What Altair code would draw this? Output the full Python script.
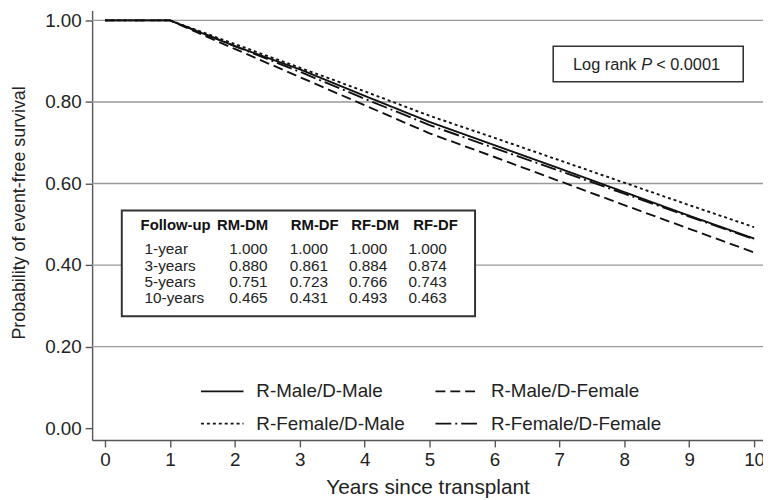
import altair as alt
import pandas as pd

FONT = "Liberation Sans"

# ---- data ----
years = [0, 1, 2, 3, 4, 5, 6, 7, 8, 9, 10]
groups = ["R-Male/D-Male", "R-Male/D-Female", "R-Female/D-Male", "R-Female/D-Female"]
rm_dm = [1.000, 1.000, 0.937, 0.880, 0.815, 0.751, 0.694, 0.637, 0.579, 0.521, 0.465]
rm_df = [1.000, 1.000, 0.930, 0.861, 0.792, 0.723, 0.665, 0.606, 0.547, 0.489, 0.431]
rf_dm = [1.000, 1.000, 0.942, 0.884, 0.826, 0.766, 0.712, 0.657, 0.602, 0.547, 0.493]
rf_df = [1.000, 1.000, 0.937, 0.874, 0.808, 0.743, 0.687, 0.631, 0.575, 0.519, 0.463]

x_ticks = [0, 1, 2, 3, 4, 5, 6, 7, 8, 9, 10]
y_ticks = [0.0, 0.2, 0.4, 0.6, 0.8, 1.0]
grid_vals = [0.2, 0.4, 0.6, 0.8, 1.0]

table_header = ["Follow-up", "RM-DM", "RM-DF", "RF-DM", "RF-DF"]
table_rows = ["1-year", "3-years", "5-years", "10-years"]
tab_rm_dm = ["1.000", "0.880", "0.751", "0.465"]
tab_rm_df = ["1.000", "0.861", "0.723", "0.431"]
tab_rf_dm = ["1.000", "0.884", "0.766", "0.493"]
tab_rf_df = ["1.000", "0.874", "0.743", "0.463"]

pvalue_text = ["Log rank", "P", "< 0.0001"]

# ---- layout (pixels, relative to plot area) ----
W, H = 678, 434
XDOM = [-0.198, 10.137]
YDOM = [-0.029, 1.024]

series = [rm_dm, rm_df, rf_dm, rf_df]
curves = pd.DataFrame(
    [{"year": y, "surv": v, "group": g} for g, s in zip(groups, series) for y, v in zip(years, s)]
)

# legend fills column by column: order so rows read RM-DM | RM-DF, RF-DM | RF-DF
legend_order = [groups[0], groups[2], groups[1], groups[3]]
dash_map = {groups[0]: [1, 0], groups[1]: [10, 5], groups[2]: [3, 3], groups[3]: [16, 4, 2, 4]}

xs = alt.Scale(domain=XDOM, nice=False, zero=False)
ys = alt.Scale(domain=YDOM, nice=False, zero=False)

x_enc = alt.X("year:Q", scale=xs, title="Years since transplant",
              axis=alt.Axis(values=x_ticks, format="d"))
y_axis = alt.Axis(values=y_ticks, format=".2f", titleX=-73, titleY=204,
                  titleAlign="center", titleBaseline="middle", titleAngle=270)
y_title = "Probability of event-free survival"

grid = alt.Chart(pd.DataFrame({"g": grid_vals})).mark_rule(
    color="#9a9a9a", strokeWidth=1.4
).encode(y=alt.Y("g:Q", scale=ys, title=y_title, axis=y_axis))

lines = alt.Chart(curves).mark_line(color="#111111", strokeWidth=1.9, clip=True).encode(
    x=x_enc,
    y=alt.Y("surv:Q", scale=ys, title=y_title, axis=y_axis),
    strokeDash=alt.StrokeDash(
        "group:N",
        scale=alt.Scale(domain=legend_order, range=[dash_map[g] for g in legend_order]),
        legend=alt.Legend(
            title=None,
            orient="none",
            legendX=109,
            legendY=362,
            columns=2,
            columnPadding=27,
            rowPadding=-30,
            symbolType="stroke",
            symbolSize=1849,
            symbolStrokeWidth=1.8,
            symbolStrokeColor="#111111",
            labelFontSize=19,
            labelFont=FONT,
            labelColor="#222222",
            labelOffset=12,
            labelLimit=400,
            padding=0,
        ),
    ),
    order="year:Q",
)

# table
col_x_head = [49, 152, 225, 286, 347]
col_x_val = [53, 158, 219, 279, 339]
row_y = [241, 258, 274, 291]
head_df = pd.DataFrame({"t": table_header, "px": col_x_head, "py": [217] * 5,
                        "al": ["left", "center", "center", "center", "center"]})
cells = []
cols = [table_rows, tab_rm_dm, tab_rm_df, tab_rf_dm, tab_rf_df]
for ci, col in enumerate(cols):
    for ri, val in enumerate(col):
        cells.append({"t": val, "px": col_x_val[ci], "py": row_y[ri], "c": ci})
cell_df = pd.DataFrame(cells)

table_box = alt.Chart(pd.DataFrame({"a": [0]})).mark_rect(
    fill="white", stroke="#333333", strokeWidth=2
).encode(x=alt.value(30), x2=alt.value(387), y=alt.value(202), y2=alt.value(309))

head_left = alt.Chart(head_df[head_df.al == "left"]).mark_text(
    align="left", baseline="middle", font=FONT, fontSize=15, fontWeight="bold", color="#111111"
).encode(x=alt.X("px:Q", scale=None), y=alt.Y("py:Q", scale=None), text="t:N")
head_center = alt.Chart(head_df[head_df.al == "center"]).mark_text(
    align="center", baseline="middle", font=FONT, fontSize=15, fontWeight="bold", color="#111111"
).encode(x=alt.X("px:Q", scale=None), y=alt.Y("py:Q", scale=None), text="t:N")
cell_left = alt.Chart(cell_df[cell_df.c == 0]).mark_text(
    align="left", baseline="middle", font=FONT, fontSize=15.5, color="#222222"
).encode(x=alt.X("px:Q", scale=None), y=alt.Y("py:Q", scale=None), text="t:N")
cell_center = alt.Chart(cell_df[cell_df.c > 0]).mark_text(
    align="center", baseline="middle", font=FONT, fontSize=15.5, color="#222222"
).encode(x=alt.X("px:Q", scale=None), y=alt.Y("py:Q", scale=None), text="t:N")

# log rank box
p_box = alt.Chart(pd.DataFrame({"a": [0]})).mark_rect(
    fill="white", stroke="#333333", strokeWidth=1.6
).encode(x=alt.value(466), x2=alt.value(658), y=alt.value(36), y2=alt.value(72))
p_df = pd.DataFrame({"t": pvalue_text, "px": [486, 555, 570], "py": [55, 55, 55],
                     "st": ["normal", "italic", "normal"]})
p_norm = alt.Chart(p_df[p_df.st == "normal"]).mark_text(
    align="left", baseline="middle", font=FONT, fontSize=16.5, color="#222222"
).encode(x=alt.X("px:Q", scale=None), y=alt.Y("py:Q", scale=None), text="t:N")
p_ital = alt.Chart(p_df[p_df.st == "italic"]).mark_text(
    align="left", baseline="middle", font=FONT, fontSize=16.5, fontStyle="italic", color="#222222"
).encode(x=alt.X("px:Q", scale=None), y=alt.Y("py:Q", scale=None), text="t:N")

chart = alt.layer(
    grid, lines, table_box, head_left, head_center, cell_left, cell_center, p_box, p_norm, p_ital
).properties(
    width=W,
    height=H,
    autosize=alt.AutoSizeParams(type="none"),
    padding={"left": 85, "top": 0, "right": 0, "bottom": 58},
).configure_view(
    stroke=None
).configure_axis(
    grid=False,
    domainColor="#555555",
    domainWidth=1.4,
    tickColor="#555555",
    tickWidth=1.4,
    tickSize=7,
    labelFont=FONT,
    labelFontSize=19,
    labelColor="#222222",
    titleFont=FONT,
    titleFontWeight="normal",
    titleColor="#222222",
).configure_axisX(
    labelPadding=4,
    titleFontSize=21,
    titlePadding=7,
).configure_axisY(
    labelPadding=4,
    titleFontSize=18,
)

chart.save("out.html", embed_options={"renderer": "svg", "actions": False})
